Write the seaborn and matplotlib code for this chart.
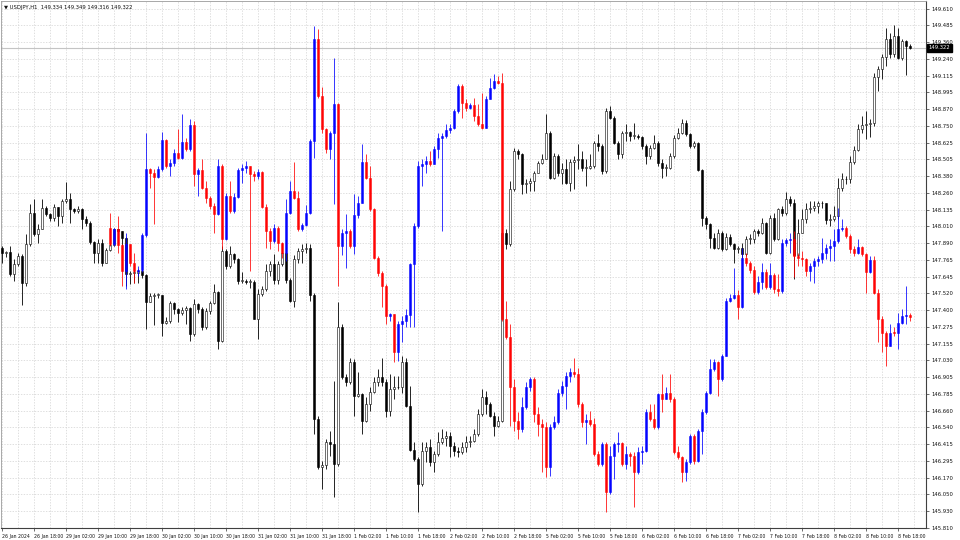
import numpy as np
import pandas as pd
import matplotlib
matplotlib.use("Agg")
import matplotlib.pyplot as plt
import matplotlib.transforms as mtransforms
import seaborn as sns

# USDJPY H1 candles (bar 0 = 26 Jan 2024 10:00), open = previous close
usd_open0 = 147.861
usd_close = [
    147.825, 147.830, 147.666, 147.739, 147.800, 147.605, 147.886, 148.117, 147.959, 148.000,
    148.153, 148.105, 148.080, 148.160, 148.093, 148.202, 148.219, 148.141, 148.129, 148.146,
    148.073, 148.039, 147.903, 147.820, 147.893, 147.752, 147.844, 147.878, 147.995, 147.983,
    147.934, 147.666, 147.673, 147.678, 147.690, 147.659, 147.460, 147.508, 147.513, 147.518,
    147.313, 147.325, 147.455, 147.411, 147.386, 147.406, 147.416, 147.228, 147.447, 147.411,
    147.277, 147.399, 147.455, 147.537, 147.179, 147.837, 147.727, 147.813, 147.776, 147.618,
    147.618, 147.610, 147.610, 147.342, 147.520, 147.557, 147.690, 147.739, 147.625, 147.739,
    147.825, 147.625, 147.472, 147.776, 147.837, 147.854, 147.861, 147.513, 146.607, 146.254,
    146.271, 146.436, 146.424, 146.278, 147.277, 146.911, 146.875, 147.021, 146.772, 146.789,
    146.595, 146.716, 146.806, 146.875, 146.911, 146.875, 146.668, 146.826, 146.845, 146.838,
    147.021, 146.699, 146.383, 146.314, 146.132, 146.375, 146.399, 146.290, 146.351, 146.436,
    146.472, 146.485, 146.412, 146.375, 146.363, 146.399, 146.436, 146.448, 146.497, 146.643,
    146.765, 146.716, 146.631, 146.558, 146.595, 147.971, 147.886, 148.287, 148.568, 148.543,
    148.324, 148.331, 148.348, 148.409, 148.477, 148.512, 148.702, 148.373, 148.531, 148.409,
    148.434, 148.336, 148.487, 148.502, 148.512, 148.446, 148.446, 148.458, 148.629, 148.604,
    148.421, 148.860, 148.811, 148.629, 148.543, 148.702, 148.706, 148.677, 148.677, 148.672,
    148.604, 148.531, 148.592, 148.629, 148.477, 148.446, 148.446, 148.531, 148.665, 148.702,
    148.775, 148.690, 148.604, 148.624, 148.429, 148.080, 148.032, 147.934, 147.861, 147.971,
    147.849, 147.942, 147.886, 147.849, 147.861, 147.813, 147.922, 147.927, 147.983, 147.971,
    148.039, 147.825, 148.080, 147.922, 148.141, 148.117, 148.219, 148.190, 147.805, 147.971,
    148.068, 148.146, 148.153, 148.165, 148.185, 148.190, 148.063, 148.068, 148.093, 148.300,
    148.360, 148.365, 148.487, 148.575, 148.731, 148.755, 148.763, 148.770, 149.111, 149.164,
    149.257, 149.389, 149.274, 149.408, 149.250, 149.372, 149.334, 149.322,
]
usd_high = [
    147.874, 147.837, 147.874, 147.776, 147.825, 147.813, 147.959, 148.177, 148.214, 148.032,
    148.214, 148.165, 148.117, 148.177, 148.129, 148.214, 148.341, 148.263, 148.153, 148.165,
    148.153, 148.093, 148.056, 147.910, 147.922, 147.927, 147.861, 147.898, 148.007, 148.000,
    147.983, 147.942, 147.690, 147.698, 147.707, 147.698, 147.666, 147.532, 147.532, 147.532,
    147.508, 147.350, 147.472, 147.464, 147.416, 147.423, 147.435, 147.430, 147.484, 147.455,
    147.423, 147.416, 147.472, 147.593, 147.545, 147.874, 147.849, 147.874, 147.825, 147.788,
    147.683, 147.630, 147.630, 147.625, 147.557, 147.581, 147.739, 147.764, 147.813, 147.764,
    147.898, 147.922, 147.642, 147.805, 147.861, 147.886, 147.893, 147.886, 147.532, 146.631,
    146.302, 146.460, 146.521, 146.887, 147.460, 147.301, 146.935, 147.057, 147.045, 146.948,
    146.801, 146.765, 146.838, 146.911, 146.972, 147.057, 146.899, 146.935, 146.923, 146.923,
    147.069, 147.057, 146.850, 146.436, 146.327, 146.436, 146.436, 146.460, 146.375, 146.509,
    146.533, 146.521, 146.509, 146.436, 146.399, 146.436, 146.485, 146.485, 146.533, 146.680,
    146.826, 146.814, 146.729, 146.656, 146.631, 147.995, 147.995, 148.348, 148.592, 148.580,
    148.555, 148.360, 148.373, 148.421, 148.495, 148.543, 148.836, 148.714, 148.555, 148.543,
    148.482, 148.507, 148.507, 148.531, 148.616, 148.568, 148.507, 148.543, 148.641, 148.690,
    148.616, 148.884, 148.896, 148.823, 148.641, 148.714, 148.763, 148.714, 148.775, 148.690,
    148.677, 148.616, 148.609, 148.682, 148.641, 148.507, 148.470, 148.555, 148.682, 148.738,
    148.799, 148.794, 148.702, 148.641, 148.633, 148.434, 148.093, 148.044, 147.971, 147.995,
    147.983, 147.971, 147.959, 147.898, 147.874, 147.898, 147.947, 147.959, 147.995, 147.995,
    148.080, 148.049, 148.097, 148.117, 148.153, 148.165, 148.268, 148.239, 148.214, 148.068,
    148.141, 148.190, 148.202, 148.202, 148.202, 148.202, 148.185, 148.105, 148.165, 148.373,
    148.409, 148.385, 148.531, 148.604, 148.763, 148.823, 148.860, 148.799, 149.140, 149.189,
    149.274, 149.469, 149.432, 149.486, 149.469, 149.384, 149.379, 149.349,
]
usd_low = [
    147.752, 147.796, 147.654, 147.618, 147.727, 147.440, 147.581, 147.874, 147.947, 147.898,
    147.995, 148.093, 148.056, 148.056, 148.020, 148.044, 148.185, 148.039, 148.117, 148.117,
    148.000, 148.020, 147.886, 147.752, 147.752, 147.727, 147.747, 147.837, 147.874, 147.971,
    147.874, 147.581, 147.593, 147.605, 147.605, 147.642, 147.264, 147.460, 147.294, 147.496,
    147.211, 147.301, 147.313, 147.374, 147.318, 147.367, 147.301, 147.179, 147.216, 147.386,
    147.259, 147.264, 147.374, 147.447, 147.118, 147.167, 147.703, 147.715, 147.752, 147.593,
    147.601, 147.593, 147.569, 147.338, 147.196, 147.508, 147.545, 147.654, 147.593, 147.593,
    147.727, 147.605, 147.460, 147.423, 147.752, 147.752, 147.820, 147.472, 146.497, 146.241,
    146.095, 146.241, 146.339, 146.034, 146.266, 146.899, 146.850, 146.862, 146.631, 146.765,
    146.497, 146.582, 146.668, 146.801, 146.850, 146.850, 146.619, 146.631, 146.753, 146.826,
    146.801, 146.692, 146.375, 146.302, 145.925, 146.120, 146.290, 146.266, 146.217, 146.339,
    146.424, 146.412, 146.327, 146.339, 146.327, 146.351, 146.363, 146.399, 146.436, 146.485,
    146.631, 146.643, 146.619, 146.485, 146.546, 146.582, 147.849, 147.874, 148.275, 148.507,
    148.251, 148.263, 148.275, 148.275, 148.409, 148.470, 148.507, 148.360, 148.360, 148.385,
    148.324, 148.324, 148.275, 148.287, 148.434, 148.421, 148.312, 148.439, 148.446, 148.568,
    148.397, 148.409, 148.799, 148.616, 148.512, 148.519, 148.641, 148.641, 148.653, 148.653,
    148.580, 148.470, 148.507, 148.580, 148.458, 148.373, 148.385, 148.434, 148.519, 148.653,
    148.690, 148.677, 148.592, 148.592, 148.421, 148.020, 147.995, 147.861, 147.849, 147.849,
    147.837, 147.844, 147.874, 147.752, 147.825, 147.788, 147.800, 147.886, 147.898, 147.947,
    147.959, 147.813, 147.813, 147.910, 147.917, 148.093, 148.097, 148.165, 147.630, 147.796,
    147.971, 148.044, 148.117, 148.129, 148.117, 148.153, 148.032, 148.020, 148.056, 148.068,
    148.275, 148.324, 148.336, 148.470, 148.568, 148.702, 148.653, 148.672, 148.750, 149.006,
    149.091, 149.189, 149.250, 149.257, 149.242, 149.237, 149.121, 149.316,
]

# overlay series drawn in blue / red, starts at bar 27
mirror_start = 27
mirror_open0 = 148.007
mirror_close = [
    147.886, 147.995, 147.878, 147.690, 147.886, 147.752, 147.690, 147.698, 147.951, 148.434,
    148.409, 148.380, 148.434, 148.648, 148.458, 148.482, 148.551, 148.519, 148.634, 148.580,
    148.755, 148.397, 148.429, 148.300, 148.227, 148.165, 148.105, 148.458, 147.922, 148.239,
    148.129, 148.234, 148.429, 148.446, 148.458, 148.397, 148.385, 148.414, 148.161, 147.983,
    147.910, 148.007, 147.898, 147.825, 148.117, 148.275, 148.227, 147.995, 148.024, 148.117,
    148.641, 149.384, 148.970, 148.726, 148.580, 148.702, 148.909, 147.874, 147.971, 147.983,
    147.874, 148.097, 148.190, 148.487, 148.373, 148.141, 147.788, 147.678, 147.581, 147.362,
    147.374, 147.094, 147.301, 147.325, 147.367, 147.739, 148.020, 148.458, 148.470, 148.495,
    148.470, 148.580, 148.665, 148.677, 148.721, 148.738, 148.860, 149.043, 148.916, 148.884,
    148.901, 148.823, 148.763, 148.738, 148.945, 149.031, 149.079, 149.067, 147.338, 147.204,
    146.838, 146.595, 146.533, 146.692, 146.838, 146.899, 146.643, 146.570, 146.546, 146.254,
    146.546, 146.582, 146.801, 146.850, 146.923, 146.948, 146.935, 146.716, 146.582, 146.602,
    146.570, 146.351, 146.278, 146.424, 146.071, 146.339, 146.424, 146.429, 146.278, 146.351,
    146.334, 146.217, 146.363, 146.375, 146.656, 146.607, 146.546, 146.789, 146.753, 146.801,
    146.753, 146.363, 146.327, 146.217, 146.290, 146.480, 146.302, 146.521, 146.656, 146.801,
    146.972, 147.021, 146.899, 147.069, 147.472, 147.496, 147.513, 147.423, 147.788, 147.752,
    147.698, 147.537, 147.610, 147.683, 147.576, 147.659, 147.557, 147.545, 147.898, 147.917,
    147.922, 147.800, 147.788, 147.776, 147.690, 147.727, 147.764, 147.781, 147.825, 147.861,
    147.874, 147.910, 147.995, 148.007, 147.947, 147.854, 147.825, 147.869, 147.813, 147.683,
    147.771, 147.532, 147.342, 147.235, 147.143, 147.240, 147.235, 147.313, 147.362, 147.367,
    147.350,
]
mirror_high = [
    148.117, 148.007, 148.093, 147.886, 147.971, 147.837, 147.825, 147.727, 147.971, 148.702,
    148.446, 148.434, 148.458, 148.706, 148.658, 148.507, 148.580, 148.726, 148.836, 148.665,
    148.804, 148.787, 148.446, 148.507, 148.348, 148.239, 148.185, 148.512, 148.470, 148.263,
    148.348, 148.263, 148.446, 148.470, 148.495, 148.434, 148.421, 148.434, 148.421, 148.177,
    148.007, 148.032, 148.020, 147.903, 148.219, 148.348, 148.487, 148.275, 148.044, 148.170,
    148.653, 149.481, 149.462, 149.038, 148.738, 148.714, 149.250, 148.921, 147.995, 148.105,
    147.995, 148.251, 148.239, 148.616, 148.543, 148.458, 148.153, 147.800, 147.690, 147.593,
    147.386, 147.374, 147.325, 147.362, 147.411, 147.752, 148.044, 148.495, 148.507, 148.531,
    148.568, 148.604, 148.702, 148.702, 148.763, 148.763, 148.872, 149.055, 149.055, 148.945,
    148.921, 148.957, 148.909, 148.994, 148.970, 149.103, 149.128, 149.116, 149.140, 147.472,
    147.301, 146.899, 146.656, 146.765, 146.875, 146.911, 146.911, 146.692, 146.607, 146.582,
    146.570, 146.631, 146.826, 146.887, 146.948, 146.984, 147.057, 146.984, 146.729, 146.643,
    146.668, 146.612, 146.375, 146.436, 146.436, 146.412, 146.436, 146.509, 146.436, 146.412,
    146.363, 146.363, 146.399, 146.412, 146.680, 146.716, 146.716, 146.801, 146.935, 146.838,
    146.935, 146.765, 146.412, 146.339, 146.314, 146.497, 146.497, 146.533, 146.680, 146.814,
    147.045, 147.045, 147.033, 147.082, 147.496, 147.520, 147.715, 147.552, 147.861, 147.825,
    147.764, 147.727, 147.654, 147.752, 147.703, 147.752, 147.678, 147.666, 147.922, 147.934,
    147.971, 147.983, 147.825, 147.837, 147.788, 147.752, 147.788, 147.800, 147.934, 147.886,
    147.922, 147.995, 148.153, 148.068, 148.020, 147.959, 147.874, 147.922, 147.874, 147.825,
    147.800, 147.800, 147.557, 147.362, 147.252, 147.301, 147.277, 147.386, 147.411, 147.581,
    147.386,
]
mirror_low = [
    147.874, 147.874, 147.825, 147.581, 147.557, 147.727, 147.605, 147.654, 147.683, 147.942,
    148.300, 148.032, 148.373, 148.421, 148.446, 148.385, 148.458, 148.507, 148.507, 148.568,
    148.568, 148.312, 148.239, 148.287, 148.190, 148.141, 147.971, 148.097, 147.849, 147.917,
    148.117, 148.117, 148.227, 148.336, 148.409, 147.690, 148.348, 148.360, 148.153, 147.861,
    147.849, 147.898, 147.837, 147.788, 147.764, 148.105, 148.214, 147.983, 147.983, 148.020,
    148.105, 148.519, 148.957, 148.702, 148.551, 148.507, 148.177, 147.581, 147.805, 147.715,
    147.861, 147.813, 148.080, 148.185, 148.360, 148.129, 147.776, 147.654, 147.430, 147.301,
    147.325, 147.021, 147.033, 147.167, 147.277, 147.277, 147.277, 148.007, 148.312, 148.409,
    148.458, 148.470, 148.519, 147.983, 148.665, 148.702, 148.726, 148.848, 148.811, 148.860,
    148.872, 148.787, 148.750, 148.726, 148.738, 148.945, 149.018, 149.055, 147.325, 147.191,
    146.558, 146.521, 146.460, 146.509, 146.680, 146.814, 146.582, 146.485, 146.217, 146.181,
    146.193, 146.533, 146.570, 146.777, 146.680, 146.875, 146.911, 146.692, 146.546, 146.424,
    146.558, 146.339, 146.266, 146.266, 145.925, 146.059, 146.168, 146.363, 146.266, 146.241,
    146.266, 145.961, 146.205, 146.278, 146.363, 146.595, 146.533, 146.533, 146.656, 146.753,
    146.729, 146.351, 146.314, 146.144, 146.156, 146.278, 146.278, 146.290, 146.351, 146.643,
    146.789, 146.960, 146.777, 146.887, 147.228, 147.460, 147.484, 147.338, 147.416, 147.727,
    147.678, 147.520, 147.520, 147.557, 147.557, 147.557, 147.532, 147.508, 147.532, 147.874,
    147.825, 147.649, 147.727, 147.727, 147.654, 147.618, 147.605, 147.727, 147.752, 147.776,
    147.764, 147.764, 147.898, 147.983, 147.934, 147.825, 147.800, 147.813, 147.800, 147.532,
    147.678, 147.520, 147.167, 147.094, 146.996, 147.138, 147.216, 147.118, 147.301, 147.301,
    147.325,
]

x_labels = [
    "26 Jan 2024", "26 Jan 18:00", "29 Jan 02:00", "29 Jan 10:00", "29 Jan 18:00",
    "30 Jan 02:00", "30 Jan 10:00", "30 Jan 18:00", "31 Jan 02:00", "31 Jan 10:00",
    "31 Jan 18:00", "1 Feb 02:00", "1 Feb 10:00", "1 Feb 18:00", "2 Feb 02:00",
    "2 Feb 10:00", "2 Feb 18:00", "5 Feb 02:00", "5 Feb 10:00", "5 Feb 18:00",
    "6 Feb 02:00", "6 Feb 10:00", "6 Feb 18:00", "7 Feb 02:00", "7 Feb 10:00",
    "7 Feb 18:00", "8 Feb 02:00", "8 Feb 10:00", "8 Feb 18:00",
]
y_labels = [
    "149.610", "149.485", "149.360", "149.240", "149.115", "148.995", "148.870", "148.750",
    "148.625", "148.505", "148.380", "148.260", "148.135", "148.010", "147.890", "147.765",
    "147.645", "147.520", "147.400", "147.275", "147.155", "147.030", "146.905", "146.785",
    "146.660", "146.540", "146.415", "146.295", "146.170", "146.050", "145.930", "145.810",
]
last_price = 149.322
title = "\u25bc USDJPY,H1  149.334 149.349 149.316 149.322"


def make_frame(close, high, low, open0, start):
    close = np.asarray(close, dtype=float)
    opn = np.r_[open0, close[:-1]]
    hi = np.maximum.reduce([np.asarray(high, dtype=float), opn, close])
    lo = np.minimum.reduce([np.asarray(low, dtype=float), opn, close])
    return pd.DataFrame({"bar": np.arange(start, start + len(close)),
                         "open": opn, "high": hi, "low": lo, "close": close})


def candles(ax, df, up_fill, down_fill, up_edge, down_edge, z, alpha=1.0):
    up = df["close"] >= df["open"]
    wick = np.where(up, up_edge, down_edge)
    ax.vlines(df["bar"], df["low"], df["high"], colors=wick, lw=0.6, zorder=z, alpha=alpha)
    body = np.maximum((df["close"] - df["open"]).abs(), 0.006)
    ax.bar(df["bar"], body, bottom=np.minimum(df["open"], df["close"]), width=0.52,
           color=np.where(up, up_fill, down_fill), edgecolor=wick, linewidth=0.4,
           zorder=z + 0.5, alpha=alpha)


usd = make_frame(usd_close, usd_high, usd_low, usd_open0, 0)
mirror = make_frame(mirror_close, mirror_high, mirror_low, mirror_open0, mirror_start)

sns.set_theme(style="white")
plt.rcParams["font.family"] = ["DejaVu Sans"]

fig = plt.figure(figsize=(9.6, 5.4), dpi=100)
ax = fig.add_axes([0.5 / 960, 12 / 540, 925.5 / 960, 527 / 540])

candles(ax, usd, "white", "black", "black", "black", 3)
candles(ax, mirror, "#0000ff", "#ff0000", "#0000ff", "#ff0000", 5, alpha=0.92)

ax.axhline(last_price, color="#c4c4c4", lw=0.8, zorder=1)

ax.set_xlim(-0.3, 231.1)
ax.set_ylim(145.810, 149.665)

ax.set_xticks(np.arange(len(x_labels)) * 8)
ax.set_xticklabels(x_labels, ha="left")
ax.set_xticks(np.arange(0, 232, 4), minor=True)
ax.set_yticks(np.linspace(149.610, 145.810, len(y_labels)))
ax.set_yticklabels(y_labels)
ax.yaxis.tick_right()

ax.tick_params(axis="x", which="major", labelsize=3.3, length=2.5, width=0.5,
               pad=1.5, color="#333333", labelcolor="#111111", bottom=True)
ax.tick_params(axis="x", which="minor", length=0)
ax.tick_params(axis="y", labelsize=3.8, length=2.5, width=0.5, pad=1.5,
               color="#333333", labelcolor="#111111", right=True)

ax.grid(True, which="both", axis="x", color="#d2d2d2", lw=0.5, ls=(0, (2, 2)), zorder=0)
ax.grid(True, which="major", axis="y", color="#d2d2d2", lw=0.5, ls=(0, (2, 2)), zorder=0)

for side in ["right", "bottom"]:
    ax.spines[side].set_color("#404040")
    ax.spines[side].set_linewidth(0.8)
for side in ["left", "top"]:
    ax.spines[side].set_color("#9a9a9a")
    ax.spines[side].set_linewidth(0.6)

trans = mtransforms.blended_transform_factory(ax.transAxes, ax.transData)
ax.text(1.003, last_price, f"{last_price:.3f}", transform=trans, ha="left", va="center",
        fontsize=3.8, color="white", clip_on=False, zorder=10,
        bbox=dict(boxstyle="square,pad=0.3", fc="black", ec="black"))

ax.text(0.004, 0.992, title, transform=ax.transAxes, ha="left", va="top",
        fontsize=3.8, color="#111111")

fig.savefig("out.png", dpi=100)
